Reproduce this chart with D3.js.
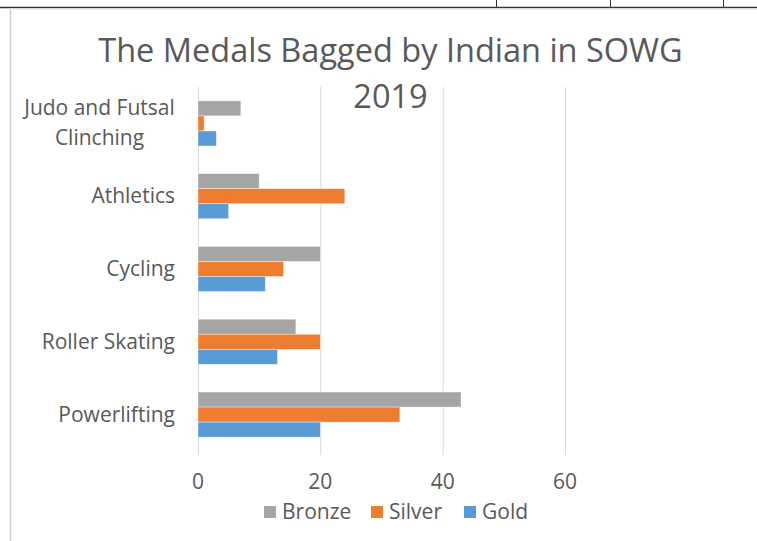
<!DOCTYPE html>
<html>
<head>
<meta charset="utf-8">
<script src="https://cdn.jsdelivr.net/npm/d3@7/dist/d3.min.js"></script>
<style>
  body { margin: 0; background: #fff; }
  text { font-family: "Open Sans", sans-serif; fill: #595959; }
</style>
</head>
<body>
<div id="chart"></div>
<script>
// medal counts per sport (top to bottom as drawn)
var categories = ["Judo and Futsal Clinching", "Athletics", "Cycling", "Roller Skating", "Powerlifting"];
var categoryLines = [["Judo and Futsal", "Clinching"], ["Athletics"], ["Cycling"], ["Roller Skating"], ["Powerlifting"]];
var seriesNames = ["Bronze", "Silver", "Gold"];
var bronze = [7, 10, 20, 16, 43];
var silver = [1, 24, 14, 20, 33];
var gold = [3, 5, 11, 13, 20];
var xTicks = [0, 20, 40, 60];
var colors = {Bronze: "#a5a5a5", Silver: "#ed7d31", Gold: "#5b9bd5"};

var W = 757, H = 541;
var plot = {left: 198, right: 565, top: 87, bottom: 451};

var svg = d3.select("#chart").append("svg")
  .attr("width", W).attr("height", H);

svg.append("rect").attr("width", W).attr("height", H).attr("fill", "#fff");

// page frame bits around the chart
svg.append("line").attr("x1", 0).attr("x2", W).attr("y1", 7.5).attr("y2", 7.5)
  .attr("stroke", "#333").attr("stroke-width", 1.5);
[496, 610, 723].forEach(function(x){
  svg.append("line").attr("x1", x + 0.5).attr("x2", x + 0.5).attr("y1", 0).attr("y2", 7)
    .attr("stroke", "#333");
});
svg.append("line").attr("x1", 10.5).attr("x2", 10.5).attr("y1", 8).attr("y2", H)
  .attr("stroke", "#d0d0d0").attr("stroke-width", 1.5);
svg.append("line").attr("x1", 10).attr("x2", W).attr("y1", 9).attr("y2", 9)
  .attr("stroke", "#e6e6e6");

var x = d3.scaleLinear().domain([0, 60]).range([plot.left, plot.right]);
var y = d3.scaleBand().domain(categories).range([plot.top, plot.bottom]).paddingInner(0.38).paddingOuter(0.19);
var ySub = d3.scaleBand().domain(seriesNames).range([0, y.bandwidth()]);

// gridlines
svg.append("g").selectAll("line").data(xTicks).enter().append("line")
  .attr("x1", function(d){ return x(d) + 0.5; })
  .attr("x2", function(d){ return x(d) + 0.5; })
  .attr("y1", plot.top).attr("y2", plot.bottom + 4)
  .attr("stroke", "#d9d9d9").attr("stroke-width", 1);

// bars
var seriesData = [bronze, silver, gold];
seriesNames.forEach(function(name, si){
  svg.append("g").selectAll("rect").data(categories).enter().append("rect")
    .attr("x", x(0))
    .attr("y", function(c){ return y(c) + ySub(name); })
    .attr("width", function(c, i){ return x(seriesData[si][i]) - x(0); })
    .attr("height", ySub.bandwidth())
    .attr("fill", colors[name])
    .attr("stroke", "#fff").attr("stroke-opacity", 0.5).attr("stroke-width", 0.75);
});

// category labels
var catG = svg.append("g");
categories.forEach(function(c, i){
  var lines = categoryLines[i];
  var cy = y(c) + y.bandwidth() / 2;
  var lh = 30;
  var multi = lines.length > 1;
  var t = catG.append("text")
    .attr("font-size", 21)
    .attr("text-anchor", multi ? "middle" : "end");
  lines.forEach(function(l, j){
    t.append("tspan")
      .attr("x", multi ? 99.5 : 175)
      .attr("y", cy + 7 + (j - (lines.length - 1) / 2) * lh)
      .text(l);
  });
});

// x tick labels
svg.append("g").selectAll("text").data(xTicks).enter().append("text")
  .attr("x", function(d){ return x(d); })
  .attr("y", 489)
  .attr("text-anchor", "middle")
  .attr("font-size", 21)
  .text(function(d){ return d; });

// title
svg.append("text").attr("x", 390.5).attr("y", 62).attr("text-anchor", "middle")
  .attr("font-size", 32.5).text("The Medals Bagged by Indian in SOWG");
svg.append("text").attr("x", 390.5).attr("y", 108).attr("text-anchor", "middle")
  .attr("font-size", 32.5).text("2019");

// legend
var legendX = [264, 371, 464];
var leg = svg.append("g");
seriesNames.forEach(function(name, i){
  leg.append("rect").attr("x", legendX[i]).attr("y", 506).attr("width", 12).attr("height", 12)
    .attr("fill", colors[name]);
  leg.append("text").attr("x", legendX[i] + 18).attr("y", 519)
    .attr("font-size", 21).text(name);
});
</script>
</body>
</html>
